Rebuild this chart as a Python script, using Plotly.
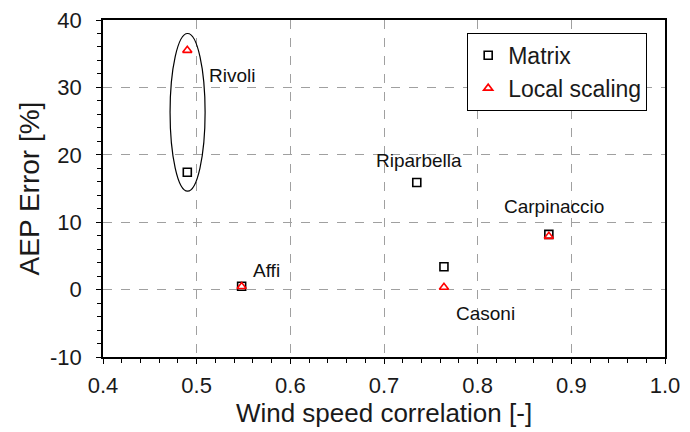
import plotly.graph_objects as go

sites = ["Rivoli", "Affi", "Riparbella", "Casoni", "Carpinaccio"]
corr = [0.49, 0.548, 0.735, 0.764, 0.876]
matrix_err = [17.4, 0.5, 15.9, 3.4, 8.2]
local_err = [35.5, 0.45, None, 0.35, 7.9]

label_x = [0.5375, 0.5745, 0.7375, 0.8085, 0.881]
label_y = [31.8, 2.9, 19.1, -3.5, 12.4]

y_tick_vals = [-10, 0, 10, 20, 30, 40]
y_tick_text = ["-10", "0", "10", "20", "30", "40"]

fig = go.Figure()
fig.add_trace(go.Scatter(
    x=corr, y=matrix_err, mode="markers", name="Matrix",
    marker=dict(symbol="square-open", size=8, color="black", line=dict(width=1.6)),
))
fig.add_trace(go.Scatter(
    x=corr, y=local_err, mode="markers", name="Local scaling",
    marker=dict(symbol="triangle-up-open", size=8, color="red", line=dict(width=1.6)),
))

for s, lx, ly in zip(sites, label_x, label_y):
    fig.add_annotation(x=lx, y=ly, text=s, showarrow=False,
                       font=dict(size=19, color="#111"))

fig.add_shape(type="circle", xref="x", yref="y", x0=0.4716, x1=0.509, y0=14.6, y1=38.0,
              line=dict(color="black", width=1.2))

axis_common = dict(
    showline=True, linecolor="black", linewidth=1.5, mirror=True,
    ticks="outside", ticklen=5, tickcolor="black", tickwidth=1.2,
    showgrid=True, gridcolor="#a0a0a0", griddash="dash", gridwidth=1,
    zeroline=False, tickfont=dict(size=22, color="#1a1a1a"), automargin=False,
)

fig.update_xaxes(range=[0.4, 1.0], dtick=0.1, tickformat=".1f", ticklabelstandoff=3,
                 title=dict(text="Wind speed correlation [-]", font=dict(size=26, color="#1a1a1a"), standoff=6),
                 minor=dict(ticks="outside", dtick=0.02, ticklen=4, tickcolor="black", showgrid=False),
                 **axis_common)
fig.update_yaxes(range=[-10, 40], tickvals=y_tick_vals, ticktext=y_tick_text, ticklabelstandoff=10,
                 title=dict(text="AEP Error [%]", font=dict(size=28, color="#1a1a1a"), standoff=2),
                 minor=dict(ticks="outside", dtick=2, ticklen=4, tickcolor="black", showgrid=False),
                 **axis_common)

fig.update_layout(
    width=690, height=432,
    margin=dict(l=103, r=25, t=20, b=75),
    plot_bgcolor="white", paper_bgcolor="white",
    font=dict(family="Liberation Sans, Arial, sans-serif", color="#1a1a1a"),
    legend=dict(x=0.648, y=0.962, xanchor="left", yanchor="top",
                bordercolor="black", borderwidth=1, bgcolor="white",
                font=dict(size=23), tracegroupgap=0, itemwidth=30),
    showlegend=True,
)

fig.write_html("out.html")
